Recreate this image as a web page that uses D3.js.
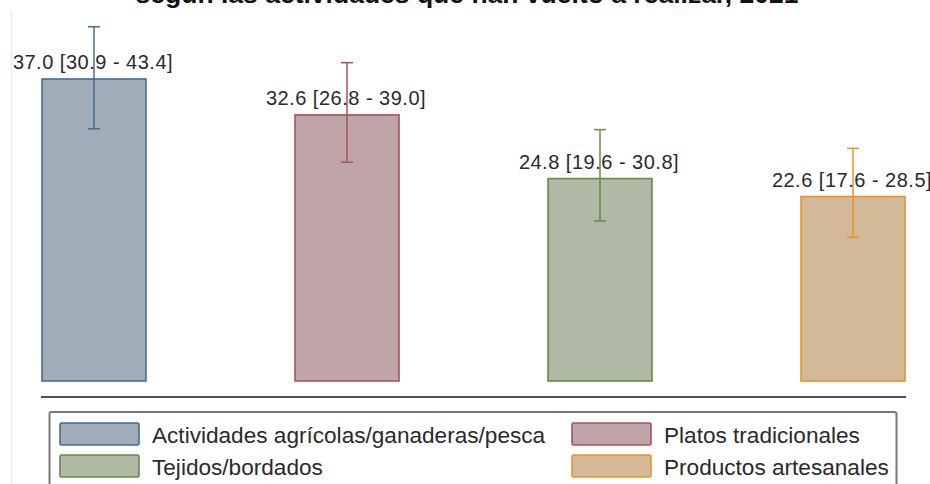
<!DOCTYPE html>
<html>
<head>
    <meta charset="utf-8">
    <title>Actividades</title>
    <script src="https://d3js.org/d3.v7.min.js"></script>
    <style>
        body {
            margin: 0;
            background-color: #ffffff;
            overflow: hidden;
        }
        text {
            font-family: "Liberation Sans", Arial, sans-serif;
        }
    </style>
</head>
<body>
    <svg></svg>

    <script type="text/javascript">
        const title = 'según las actividades que han vuelto a realizar, 2021'
        const categories = ['Actividades agrícolas/ganaderas/pesca', 'Platos tradicionales', 'Tejidos/bordados', 'Productos artesanales']
        const values = [37.0, 32.6, 24.8, 22.6]
        const lower = [30.9, 26.8, 19.6, 17.6]
        const upper = [43.4, 39.0, 30.8, 28.5]
        const fills = ['#a1acb9', '#bfa5a8', '#b0b9a5', '#d4b998']
        const strokes = ['#466c93', '#a3545f', '#678a45', '#e8922c']

        const W = 930, H = 484

        let svg = d3.select('svg')
            .attr('width', W)
            .attr('height', H)

        let data = categories.map((c, i) => ({
            cat: c, val: values[i], lo: lower[i], hi: upper[i], fill: fills[i], stroke: strokes[i]
        }))

        let xScale = d3.scaleBand()
            .domain(categories)
            .range([42, 905])
            .paddingInner(0.589)
            .paddingOuter(0)

        let yScale = d3.scaleLinear()
            .domain([0, 37])
            .range([381, 79])

        // title (cut off at top in the original)
        svg.append('text')
            .attr('x', 467)
            .attr('y', 3)
            .attr('text-anchor', 'middle')
            .style('font-size', '26.5px')
            .style('font-weight', 'bold')
            .attr('fill', '#111')
            .text(title)

        // faint plot region edge
        svg.append('line')
            .attr('x1', 11.5).attr('x2', 11.5)
            .attr('y1', 10).attr('y2', H)
            .attr('stroke', '#e6eeee')
            .attr('stroke-width', 1.5)

        // bars
        svg.selectAll('rect.bar')
            .data(data)
            .enter()
            .append('rect')
            .attr('class', 'bar')
            .attr('x', d => xScale(d.cat))
            .attr('y', d => yScale(d.val))
            .attr('width', xScale.bandwidth())
            .attr('height', d => yScale(0) - yScale(d.val))
            .attr('fill', d => d.fill)
            .attr('stroke', d => d.stroke)
            .attr('stroke-width', 1.6)

        // error bars
        let cap = 6
        let err = svg.selectAll('g.err')
            .data(data)
            .enter()
            .append('g')
            .attr('class', 'err')
            .attr('stroke', d => d.stroke)
            .attr('stroke-width', 1.5)
        err.append('line')
            .attr('x1', d => xScale(d.cat) + xScale.bandwidth() / 2)
            .attr('x2', d => xScale(d.cat) + xScale.bandwidth() / 2)
            .attr('y1', d => yScale(d.lo))
            .attr('y2', d => yScale(d.hi))
        err.append('line')
            .attr('x1', d => xScale(d.cat) + xScale.bandwidth() / 2 - cap)
            .attr('x2', d => xScale(d.cat) + xScale.bandwidth() / 2 + cap)
            .attr('y1', d => yScale(d.hi))
            .attr('y2', d => yScale(d.hi))
        err.append('line')
            .attr('x1', d => xScale(d.cat) + xScale.bandwidth() / 2 - cap)
            .attr('x2', d => xScale(d.cat) + xScale.bandwidth() / 2 + cap)
            .attr('y1', d => yScale(d.lo))
            .attr('y2', d => yScale(d.lo))

        // value labels
        svg.selectAll('text.lab')
            .data(data)
            .enter()
            .append('text')
            .attr('class', 'lab')
            .attr('x', d => xScale(d.cat) + xScale.bandwidth() / 2 - 1)
            .attr('y', d => yScale(d.val) - 10)
            .attr('text-anchor', 'middle')
            .style('font-size', '20px')
            .style('letter-spacing', '0.5px')
            .attr('fill', '#2a2a2a')
            .text(d => `${d.val.toFixed(1)} [${d.lo.toFixed(1)} - ${d.hi.toFixed(1)}]`)

        // base line
        svg.append('line')
            .attr('x1', 41).attr('x2', 906)
            .attr('y1', 397).attr('y2', 397)
            .attr('stroke', '#505050')
            .attr('stroke-width', 2)

        // legend
        svg.append('rect')
            .attr('x', 49.5).attr('y', 412)
            .attr('width', 847).attr('height', 90)
            .attr('rx', 2)
            .attr('fill', 'none')
            .attr('stroke', '#777')
            .attr('stroke-width', 2)

        let legPos = [[60, 423], [572, 423], [60, 455], [572, 455]]
        let leg = svg.selectAll('g.leg')
            .data(data)
            .enter()
            .append('g')
            .attr('class', 'leg')
            .attr('transform', (d, i) => `translate(${legPos[i][0]},${legPos[i][1]})`)
        leg.append('rect')
            .attr('width', 79)
            .attr('height', 22)
            .attr('rx', 1.5)
            .attr('fill', d => d.fill)
            .attr('stroke', d => d.stroke)
            .attr('stroke-width', 1.6)
        leg.append('text')
            .attr('x', 92)
            .attr('y', 19.5)
            .style('font-size', '22.6px')
            .attr('fill', '#2a2a2a')
            .text(d => d.cat)
    </script>
</body>
</html>
